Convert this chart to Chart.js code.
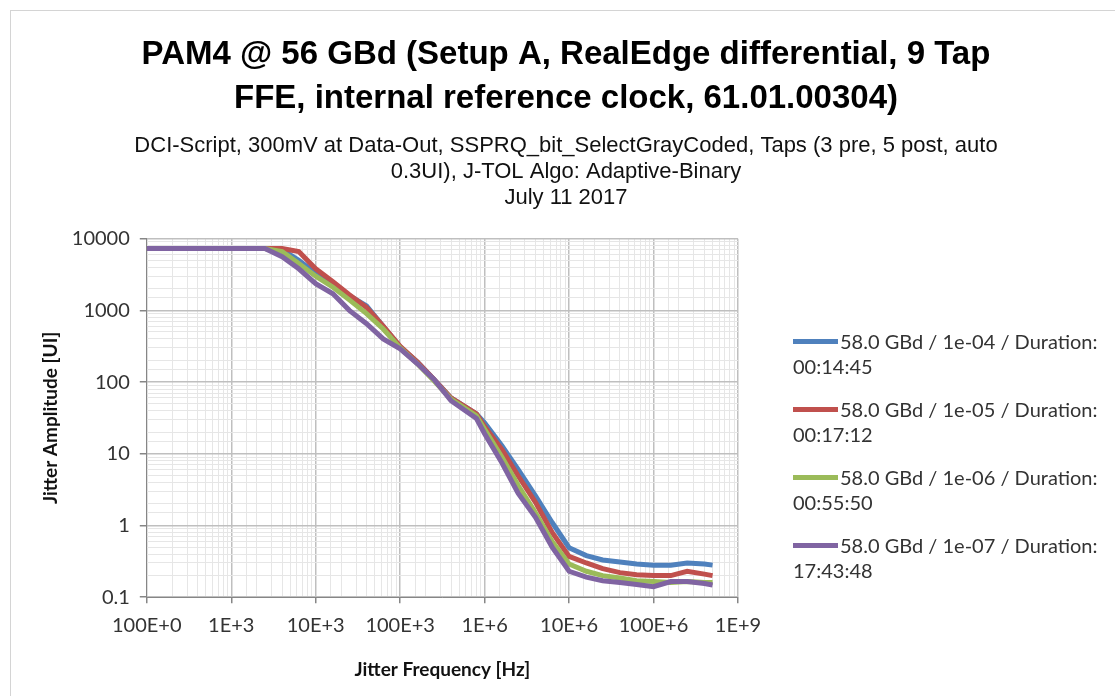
<!DOCTYPE html>
<html>
<head>
<meta charset="utf-8">
<title>J-TOL PAM4 56 GBd</title>
<script src="https://cdn.jsdelivr.net/npm/chart.js@4.4.1/dist/chart.umd.min.js"></script>
<style>
  html, body { margin: 0; padding: 0; background: #fff; overflow: hidden; }
  #wrap { position: relative; width: 1115px; height: 696px; }
  #frame {
    position: absolute; left: 10px; top: 10px; width: 1200px; height: 800px;
    border: 1px solid #d4d4d4; box-sizing: border-box;
  }
  #jtolChart { position: absolute; left: 0; top: 0; }
  #legend {
    position: absolute; left: 793px; top: 329px;
    font-family: Lato, "Open Sans", sans-serif; font-size: 20px; color: #333;
  }
  .item { line-height: 25px; margin-bottom: 18px; white-space: nowrap; }
  .swatch {
    display: inline-block; width: 45px; height: 5px; margin-right: 2px;
    vertical-align: middle; position: relative; top: -2px;
  }
</style>
</head>
<body>
<div id="wrap">
  <div id="frame"></div>
  <canvas id="jtolChart" width="1115" height="696"></canvas>
  <div id="legend"></div>
</div>
<script>
// jitter frequency points [Hz]
const freqHz = [100, 2500, 4000, 6300, 10e3, 16e3, 25e3, 40e3, 63e3, 100e3, 160e3, 250e3, 400e3,
  800e3, 1e6, 1.6e6, 2.5e6, 4e6, 6.3e6, 10e6, 16e6, 25e6, 40e6, 63e6, 100e6, 160e6, 250e6, 400e6, 500e6];

// tolerated jitter amplitude [UI] per target BER
const jtolBer1e4 = [7300, 7300, 7000, 5000, 3300, 2300, 1600, 1150, 600, 310, 190, 110, 60,
  36, 27, 13, 6.0, 2.6, 1.1, 0.49, 0.38, 0.33, 0.31, 0.29, 0.28, 0.28, 0.30, 0.29, 0.28];
const jtolBer1e5 = [7300, 7300, 7300, 6600, 3800, 2500, 1650, 1100, 600, 315, 190, 110, 60,
  36, 24, 11.5, 4.9, 2.1, 0.8, 0.37, 0.30, 0.25, 0.22, 0.205, 0.20, 0.20, 0.23, 0.21, 0.20];
const jtolBer1e6 = [7300, 7300, 6600, 4500, 3000, 2100, 1400, 900, 550, 300, 180, 105, 58,
  34, 22, 9, 3.6, 1.5, 0.6, 0.29, 0.23, 0.20, 0.185, 0.17, 0.165, 0.16, 0.165, 0.16, 0.16];
const jtolBer1e7 = [7300, 7300, 5600, 3800, 2350, 1700, 1000, 650, 400, 290, 180, 110, 55,
  31, 19, 7.5, 2.8, 1.3, 0.5, 0.23, 0.19, 0.17, 0.16, 0.15, 0.14, 0.165, 0.165, 0.155, 0.148];

const seriesLabels = ["58.0 GBd / 1e-04 / Duration:", "58.0 GBd / 1e-05 / Duration:",
  "58.0 GBd / 1e-06 / Duration:", "58.0 GBd / 1e-07 / Duration:"];
const durations = ["00:14:45", "00:17:12", "00:55:50", "17:43:48"];
const seriesColors = ["#4f81bd", "#c0504d", "#9bbb59", "#8064a2"];

const titleLines = ["PAM4 @ 56 GBd (Setup A, RealEdge differential, 9 Tap",
  "FFE, internal reference clock, 61.01.00304)"];
const subtitleLines = ["DCI-Script, 300mV at Data-Out, SSPRQ_bit_SelectGrayCoded, Taps (3 pre, 5 post, auto",
  "0.3UI), J-TOL Algo: Adaptive-Binary", "July 11 2017"];

function isDecade(v) {
  const l = Math.log10(v);
  return Math.abs(l - Math.round(l)) < 1e-6;
}

// 100E+0, 1E+3, 10E+3 ... like Excel engineering format
function engLabel(v) {
  if (!isDecade(v)) return '';
  const e = Math.round(Math.log10(v));
  const e3 = Math.floor(e / 3) * 3;
  return Math.round(v / Math.pow(10, e3)) + 'E+' + e3;
}

function yLabel(v) {
  if (!isDecade(v)) return '';
  return v >= 1 ? String(Math.round(v)) : String(Number(v.toPrecision(1)));
}

const allSeries = [jtolBer1e4, jtolBer1e5, jtolBer1e6, jtolBer1e7];
const datasets = allSeries.map((vals, i) => ({
  label: seriesLabels[i] + ' ' + durations[i],
  data: freqHz.map((f, j) => ({ x: f, y: vals[j] })),
  borderColor: seriesColors[i],
  backgroundColor: seriesColors[i],
  borderWidth: 5,
  pointRadius: 0,
  tension: 0,
  order: 4 - i
}));

const gridColor = ctx => isDecade(ctx.tick.value) ? '#bfbfbf' : '#e6e6e6';
const gridWidth = ctx => isDecade(ctx.tick.value) ? 1.5 : 1;
const tickColor = ctx => isDecade(ctx.tick.value) ? '#868686' : 'rgba(0,0,0,0)';

const chart = new Chart(document.getElementById('jtolChart'), {
  type: 'line',
  data: { datasets: datasets },
  options: {
    responsive: false,
    animation: false,
    layout: { padding: { left: 39, right: 22, top: 0, bottom: 15 } },
    plugins: {
      legend: { display: false },
      tooltip: { enabled: false },
      title: {
        display: true,
        text: titleLines,
        color: '#000',
        font: { family: '"Liberation Sans", Arial, sans-serif', size: 33, weight: 'bold', lineHeight: 1.36 },
        padding: { top: 32, bottom: 0 }
      },
      subtitle: {
        display: true,
        text: subtitleLines,
        color: '#111',
        font: { family: '"Liberation Sans", Arial, sans-serif', size: 22, lineHeight: 1.18 },
        padding: { top: 11, bottom: 28 }
      }
    },
    scales: {
      x: {
        type: 'logarithmic',
        min: 100,
        max: 1e9,
        grid: { color: gridColor, lineWidth: gridWidth, tickColor: tickColor, tickLength: 6 },
        border: { color: '#868686', width: 1 },
        ticks: {
          autoSkip: false, maxRotation: 0, padding: 10,
          color: '#333',
          font: { family: 'Lato, sans-serif', size: 20 },
          callback: v => engLabel(v)
        },
        title: {
          display: true, text: 'Jitter Frequency [Hz]', color: '#111',
          font: { family: 'Lato, sans-serif', size: 19, weight: 'bold' },
          padding: { top: 11, bottom: 0 }
        }
      },
      y: {
        type: 'logarithmic',
        min: 0.1,
        max: 10000,
        grid: { color: gridColor, lineWidth: gridWidth, tickColor: tickColor, tickLength: 7 },
        border: { color: '#868686', width: 1 },
        ticks: {
          autoSkip: false, padding: 10,
          color: '#333',
          font: { family: 'Lato, sans-serif', size: 20 },
          callback: v => yLabel(v)
        },
        title: {
          display: true, text: 'Jitter Amplitude [UI]', color: '#111',
          font: { family: 'Lato, sans-serif', size: 19, weight: 'bold' },
          padding: { top: 0, bottom: 0 }
        }
      },
      // empty box on the right that keeps room for the html legend
      legendSpace: {
        type: 'linear',
        position: 'right',
        min: 0,
        max: 1,
        grid: { display: false, drawOnChartArea: false },
        border: { display: false },
        ticks: { display: false },
        afterFit: scale => { scale.width = 355; }
      }
    }
  }
});

// legend: line sample + wrapped label, like the spreadsheet legend
const legendBox = document.getElementById('legend');
chart.data.datasets.forEach((ds, i) => {
  const item = document.createElement('div');
  item.className = 'item';
  item.innerHTML = `<span class="swatch" style="background:${ds.borderColor}"></span>${seriesLabels[i]}<br>${durations[i]}`;
  legendBox.appendChild(item);
});
</script>
</body>
</html>
